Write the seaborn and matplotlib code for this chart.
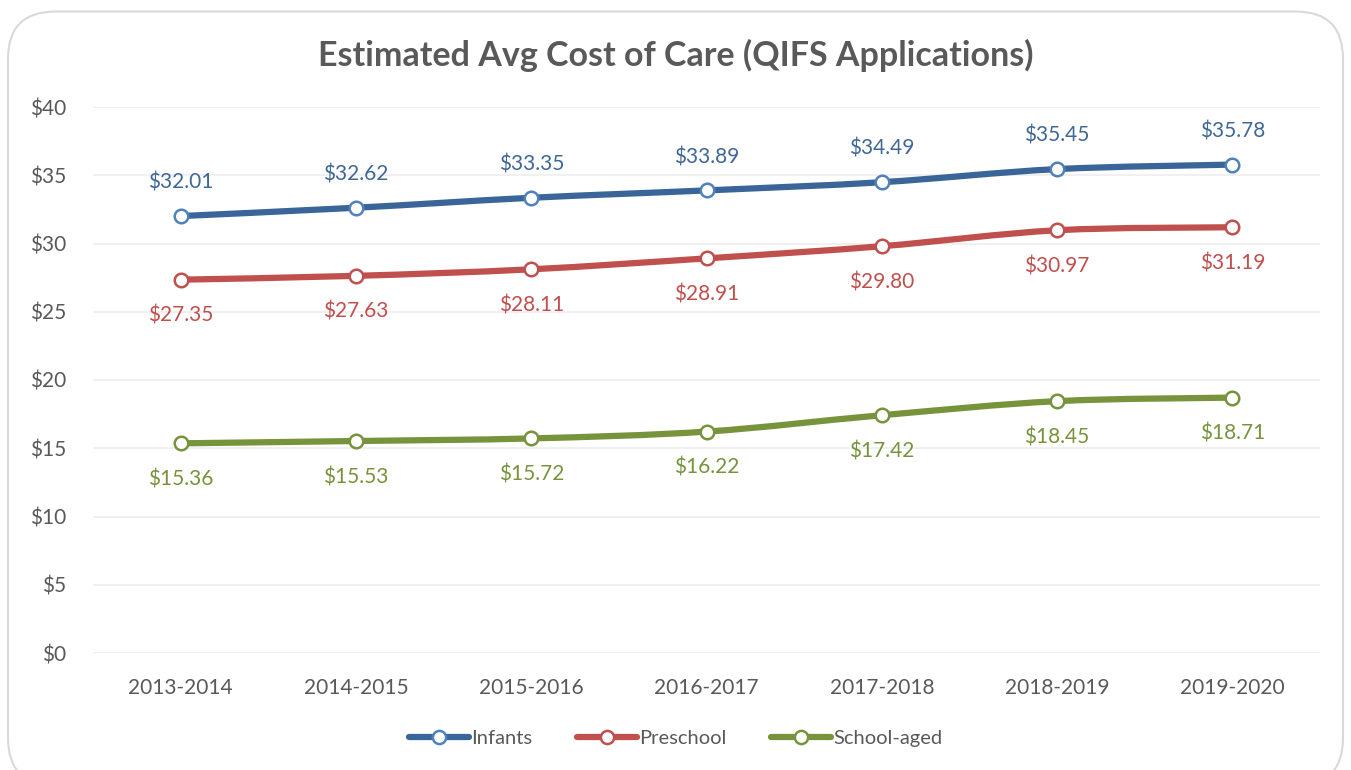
import matplotlib
matplotlib.use("Agg")
import matplotlib.pyplot as plt
import seaborn as sns
import pandas as pd
import numpy as np
from matplotlib.path import Path
from matplotlib.patches import PathPatch, FancyBboxPatch
from matplotlib.lines import Line2D

years = ["2013-2014", "2014-2015", "2015-2016", "2016-2017", "2017-2018", "2018-2019", "2019-2020"]
infants = [32.01, 32.62, 33.35, 33.89, 34.49, 35.45, 35.78]
preschool = [27.35, 27.63, 28.11, 28.91, 29.80, 30.97, 31.19]
school_aged = [15.36, 15.53, 15.72, 16.22, 17.42, 18.45, 18.71]
series_names = ["Infants", "Preschool", "School-aged"]
yticks = [0, 5, 10, 15, 20, 25, 30, 35, 40]

line_colors = {"Infants": "#3A6598", "Preschool": "#C0504D", "School-aged": "#77933C"}
edge_colors = {"Infants": "#4F81BD", "Preschool": "#C0504D", "School-aged": "#77933C"}
label_colors = {"Infants": "#3F6797", "Preschool": "#C0504D", "School-aged": "#77933C"}
label_offsets = {"Infants": 24, "Preschool": -26, "School-aged": -26}

sns.set_theme(style="white")
plt.rcParams["font.family"] = ["Lato", "DejaVu Sans"]

rows = []
for name, vals in zip(series_names, [infants, preschool, school_aged]):
    for i, (yr, v) in enumerate(zip(years, vals)):
        rows.append({"year": yr, "idx": i, "value": v, "series": name})
df = pd.DataFrame(rows)

fig = plt.figure(figsize=(13.51, 7.70), dpi=100)
ax = fig.add_axes([93 / 1351, 1 - 653 / 770, (1320 - 93) / 1351, (653 - 107) / 770])

border = FancyBboxPatch((8 / 1351, -0.02), 1335 / 1351, (770 - 10) / 770 + 0.02 - 0.002,
                        boxstyle="round,pad=0,rounding_size=0.035", transform=fig.transFigure,
                        facecolor="white", edgecolor="#D9D9D9", linewidth=1.5,
                        mutation_aspect=1351 / 770, zorder=-10)
fig.patches.append(border)
ax.set_facecolor("none")

def smooth_path(xs, ys):
    xs = np.asarray(xs, float); ys = np.asarray(ys, float)
    verts = [(xs[0], ys[0])]
    codes = [Path.MOVETO]
    n = len(xs)
    for i in range(n - 1):
        x0, y0 = (xs[i - 1], ys[i - 1]) if i > 0 else (xs[i], ys[i])
        x1, y1 = xs[i], ys[i]
        x2, y2 = xs[i + 1], ys[i + 1]
        x3, y3 = (xs[i + 2], ys[i + 2]) if i + 2 < n else (xs[i + 1], ys[i + 1])
        c1 = (x1 + (x2 - x0) / 6, y1 + (y2 - y0) / 6)
        c2 = (x2 - (x3 - x1) / 6, y2 - (y3 - y1) / 6)
        verts += [c1, c2, (x2, y2)]
        codes += [Path.CURVE4] * 3
    return Path(verts, codes)

for name in series_names:
    sub = df[df.series == name]
    p = smooth_path(sub.idx, sub.value)
    ax.add_patch(PathPatch(p, facecolor="none", edgecolor=line_colors[name], lw=4.5,
                           capstyle="round", zorder=2))
    sns.scatterplot(data=sub, x="idx", y="value", ax=ax, s=95, marker="o",
                    facecolor="white", edgecolor=edge_colors[name], linewidth=1.8,
                    zorder=3, legend=False)
    for _, r in sub.iterrows():
        ax.annotate(f"${r.value:.2f}", (r.idx, r.value), xytext=(0, label_offsets[name]),
                    textcoords="offset points", ha="center", va="center",
                    fontsize=15, color=label_colors[name])

ax.set_xlim(-0.5, 6.5)
ax.set_ylim(0, 40)
ax.set_yticks(yticks)
ax.set_yticklabels([f"${t}" for t in yticks])
ax.set_xticks(range(len(years)))
ax.set_xticklabels(years)
ax.tick_params(axis="both", length=0, labelsize=15, colors="#595959")
ax.tick_params(axis="y", pad=19)
ax.tick_params(axis="x", pad=18)
ax.grid(axis="y", color="#EEEEEE", lw=1.2)
ax.set_axisbelow(True)
for s in ax.spines.values():
    s.set_visible(False)
ax.set_xlabel(""); ax.set_ylabel("")

fig.text(0.5, 1 - 55 / 770, "Estimated Avg Cost of Care (QIFS Applications)", ha="center", va="center",
         fontsize=24.5, fontweight="bold", color="#595959")

handles = [Line2D([0], [0], color=line_colors[n], lw=4.5, marker="o", markersize=9.5,
                  markerfacecolor="white", markeredgecolor=edge_colors[n], markeredgewidth=1.8,
                  solid_capstyle="round")
           for n in series_names]
fig.legend(handles, series_names, loc="center", bbox_to_anchor=(0.5, 1 - 738 / 770), ncol=3,
           frameon=False, fontsize=14.5, labelcolor="#595959", handlelength=3.0,
           handletextpad=0.1, columnspacing=2.2)

fig.savefig("out.png", dpi=100)
